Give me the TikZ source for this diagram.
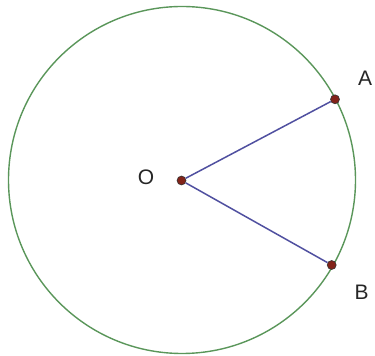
\documentclass[tikz,border=0pt]{standalone}
\usepackage{fontspec}
\setmainfont{Liberation Sans}
\definecolor{circ}{RGB}{90,150,90}
\definecolor{seg}{RGB}{80,80,160}
\definecolor{dotc}{RGB}{130,35,25}
\begin{document}
\begin{tikzpicture}[x=1pt,y=1pt,
  pt/.style={circle,draw=black!80,fill=dotc,line width=0.6pt,inner sep=0pt,minimum size=9pt},
  lbl/.style={font=\fontsize{21}{23}\selectfont,text=black!85},
  segline/.style={draw=seg,line width=1.5pt}]
\useasboundingbox (0,0) rectangle (375,356);
\coordinate (C) at (182,176);
\draw[circ,line width=1.4pt] (C) circle (173.5);
\node[pt] (O) at (181.5,175.5) {};
\node[pt] (A) at (335,256.7) {};
\node[pt] (B) at (331.7,91) {};
\draw[segline] (O) -- (A);
\draw[segline] (O) -- (B);
\node[lbl] (lO) at (146,179) {O};
\node[lbl] (lA) at (365,278) {A};
\node[lbl] (lB) at (361.5,64) {B};
\end{tikzpicture}
\end{document}
